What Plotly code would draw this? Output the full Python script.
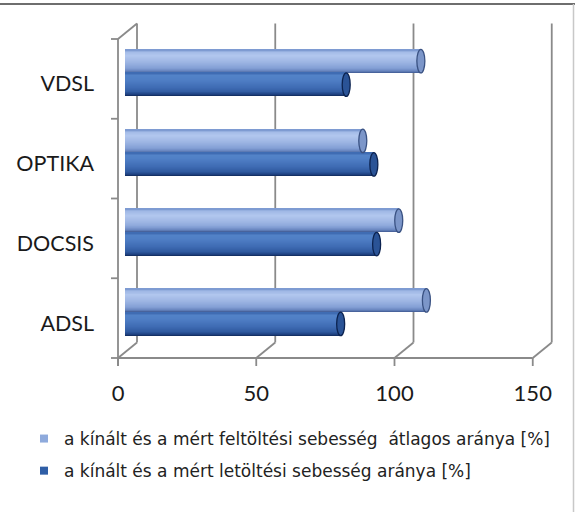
import plotly.graph_objects as go

# ---- data -------------------------------------------------------------
categories = ["ADSL", "DOCSIS", "OPTIKA", "VDSL"]
upload_ratio = [109, 99, 86, 107]      # feltöltési arány [%]
download_ratio = [78, 91, 90, 80]      # letöltési arány [%]
x_ticks = [0, 50, 100, 150]
series_names = [
    "a kínált és a mért feltöltési sebesség  átlagos aránya [%]",
    "a kínált és a mért letöltési sebesség aránya [%]",
]

# ---- geometry (pixels) --------------------------------------------------
W, H = 575, 512
M_L, M_R, M_T, M_B = 110, 20, 20, 142
PLOT_W = W - M_L - M_R
PLOT_H = H - M_T - M_B
PX_PER_PCT = 2.765          # horizontal scale of the bar plane
ZERO_PX = 15                # value 0 sits this far right of the plot edge
PX_PER_CAT = 79.75          # height of one category band
BOTTOM_PX = 18              # gap below the lowest category band

x_range = [-ZERO_PX / PX_PER_PCT, (PLOT_W - ZERO_PX) / PX_PER_PCT]
y_lo = -0.5 - BOTTOM_PX / PX_PER_CAT
y_range = [y_lo, y_lo + PLOT_H / PX_PER_CAT]


def dx(px):
    return px / PX_PER_PCT


def dy(px):
    return px / PX_PER_CAT


def paper_x(px):
    return (px - M_L) / PLOT_W


def paper_y(py):
    return (H - M_B - py) / PLOT_H


# 3D box planes relative to the bar plane (right, up) in pixels
BACK = (12, 9.5)
FRONT = (-7, -6)
Y_BOT, Y_TOP = -0.5, len(categories) - 0.5

BAR_W = 0.295
N_STRIPS = 24

# shading stops across a cylinder, top edge (0) to bottom edge (1)
light_stops = [(0.0, "#7391cb"), (0.08, "#9fb7e5"), (0.28, "#b2c7ee"),
               (0.55, "#9db5e3"), (0.8, "#839fd5"), (0.92, "#6683bd"),
               (1.0, "#3d5890")]
dark_stops = [(0.0, "#3a66ae"), (0.1, "#5383c8"), (0.3, "#4f7ec5"),
              (0.6, "#3f6cb4"), (0.82, "#2f5aa0"), (0.93, "#1f4282"),
              (1.0, "#0f2858")]


def _rgb(h):
    return tuple(int(h[i:i + 2], 16) for i in (1, 3, 5))


def shade(stops, t):
    for (t0, c0), (t1, c1) in zip(stops, stops[1:]):
        if t <= t1:
            f = (t - t0) / (t1 - t0) if t1 > t0 else 0
            a, b = _rgb(c0), _rgb(c1)
            return "rgb(%d,%d,%d)" % tuple(round(p + (q - p) * f) for p, q in zip(a, b))
    return stops[-1][1]


fig = go.Figure()

# cylinders: layered bars give a top-to-bottom shading
series = [
    (upload_ratio, light_stops, BAR_W),
    (download_ratio, dark_stops, 0.0),
]
strip = BAR_W / N_STRIPS
for values, stops, top in series:
    for k in reversed(range(N_STRIPS)):
        fig.add_trace(go.Bar(
            y=categories, x=values, orientation="h",
            offset=top - (k + 1) * strip, width=(k + 1) * strip,
            marker=dict(color=shade(stops, (k + 0.5) / N_STRIPS), line=dict(width=0)),
            showlegend=False, hoverinfo="skip",
        ))

# legend entries
for name, color, grp in [(series_names[0], "#8eaadc", "up"),
                         (series_names[1], "#2f5ea6", "down")]:
    fig.add_trace(go.Scatter(
        x=[None], y=[None], mode="markers", name=name, legendgroup=grp,
        marker=dict(symbol="square", size=8, color=color),
    ))

shapes = []
GRID = dict(color="#8a8a8a", width=1.8)


def seg(x0, y0, x1, y1, layer="below", line=GRID):
    shapes.append(dict(type="line", xref="x", yref="y", x0=x0, y0=y0,
                       x1=x1, y1=y1, line=line, layer=layer))


bx, by = dx(BACK[0]), dy(BACK[1])
fx, fy = dx(FRONT[0]), dy(FRONT[1])

# back wall gridlines and floor diagonals
for v in x_ticks:
    seg(v + bx, Y_BOT + by, v + bx, Y_TOP + by)
    seg(v + fx, Y_BOT + fy, v + bx, Y_BOT + by)
    seg(v + fx, Y_BOT + fy, v + fx, Y_BOT + fy - dy(8))
# front floor edge
seg(x_ticks[0] + fx, Y_BOT + fy, x_ticks[-1] + fx, Y_BOT + fy)
# left side wall
seg(fx, Y_BOT + fy - dy(8), fx, Y_TOP + fy)
seg(fx, Y_TOP + fy, bx, Y_TOP + by)
for i in range(len(categories) + 1):
    b = Y_BOT + i
    seg(fx - dx(7), b + fy, fx, b + fy)

# cylinder end caps
cap_half = dx(4)
for values, top, fill, edge in [
    (upload_ratio, BAR_W, "#7c96c9", "#3a5283"),
    (download_ratio, 0.0, "#2a5396", "#0c2350"),
]:
    for i, v in enumerate(values):
        shapes.append(dict(type="circle", xref="x", yref="y",
                           x0=v - cap_half, x1=v + cap_half,
                           y0=i + top - BAR_W, y1=i + top,
                           fillcolor=fill, line=dict(color=edge, width=1.3),
                           layer="above"))

# outer frame
shapes.append(dict(type="line", xref="paper", yref="paper",
                   x0=paper_x(0), x1=paper_x(W), y0=paper_y(4), y1=paper_y(4),
                   line=dict(color="#6e6e6e", width=2)))
shapes.append(dict(type="line", xref="paper", yref="paper",
                   x0=paper_x(573.5), x1=paper_x(573.5), y0=paper_y(4), y1=paper_y(H),
                   line=dict(color="#c8c8c8", width=1.5)))

fig.update_layout(
    width=W, height=H, autosize=False,
    margin=dict(l=M_L, r=M_R, t=M_T, b=M_B, pad=0),
    paper_bgcolor="white", plot_bgcolor="white",
    barmode="overlay", bargap=0,
    font=dict(family="Lato, 'Open Sans', sans-serif", color="#1a1a1a"),
    shapes=shapes,
    showlegend=True,
    legend=dict(x=paper_x(24), y=paper_y(421), xanchor="left", yanchor="top",
                orientation="v", tracegroupgap=7, bgcolor="rgba(0,0,0,0)",
                font=dict(family="'DejaVu Sans', sans-serif", size=17, color="#222222")),
    xaxis=dict(range=x_range, tickvals=x_ticks, showgrid=False, zeroline=False,
               showline=False, ticks="", tickfont=dict(size=22),
               ticklabelshift=-7, ticklabelstandoff=8, fixedrange=True),
    yaxis=dict(type="category", categoryarray=categories, categoryorder="array",
               range=y_range, showgrid=False, zeroline=False, showline=False,
               ticks="", tickfont=dict(size=21.5), ticklabelstandoff=15,
               ticklabelshift=11, fixedrange=True),
)

fig.write_html("out.html")
